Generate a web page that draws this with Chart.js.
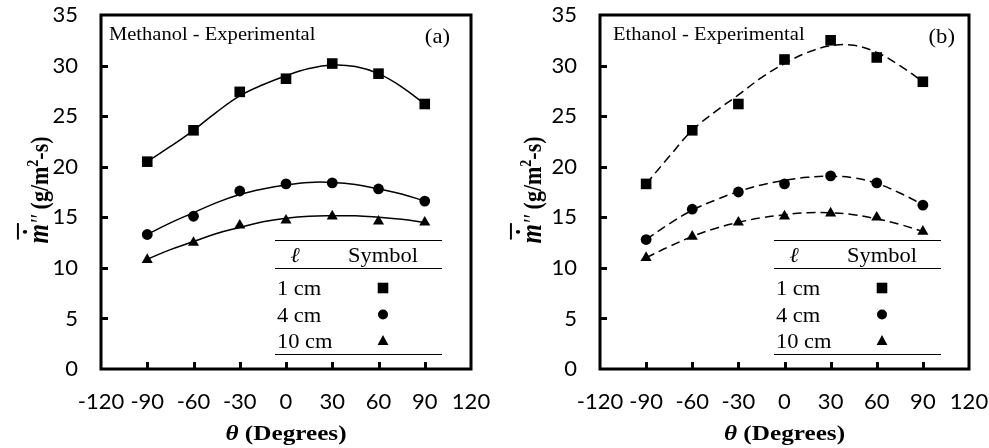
<!DOCTYPE html>
<html>
<head>
<meta charset="utf-8">
<script src="https://cdn.jsdelivr.net/npm/chart.js@4.4.0/dist/chart.umd.min.js"></script>
<style>
  body { margin: 0; background: #fff; }
  #wrap { position: relative; width: 989px; height: 448px; }
  .box { position: absolute; top: 0; height: 448px; }
</style>
</head>
<body>
<div id="wrap">
  <div class="box" style="left:0;width:495px"><canvas id="chartA"></canvas></div>
  <div class="box" style="left:495px;width:494px"><canvas id="chartB"></canvas></div>
</div>
<script>
// measured points
const angles = [-90, -60, -30, 0, 30, 60, 90];
const methanol1 = [20.5, 23.6, 27.4, 28.7, 30.2, 29.2, 26.2];
const methanol4 = [13.3, 15.1, 17.6, 18.3, 18.4, 17.8, 16.6];
const methanol10 = [10.8, 12.5, 14.2, 14.7, 15.1, 14.6, 14.5];
const ethanol1 = [18.3, 23.6, 26.2, 30.6, 32.5, 30.8, 28.4];
const ethanol4 = [12.8, 15.8, 17.5, 18.3, 19.1, 18.4, 16.2];
const ethanol10 = [11.0, 13.1, 14.5, 15.1, 15.4, 15.0, 13.6];

// fitted trend lines
const fitAngles = [-90, -75, -60, -45, -30, -15, 0, 15, 30, 45, 60, 75, 90];
const methanolFit1 = [20.5, 22.0, 23.6, 25.4, 27.0, 28.1, 29.0, 29.7, 30.05, 29.9, 29.2, 27.9, 26.2];
const methanolFit4 = [13.3, 14.45, 15.45, 16.45, 17.25, 17.8, 18.2, 18.45, 18.45, 18.25, 17.8, 17.3, 16.6];
const methanolFit10 = [10.85, 11.8, 12.6, 13.4, 14.0, 14.55, 14.9, 15.1, 15.15, 15.15, 15.0, 14.8, 14.5];
const ethanolFit1 = [18.3, 21.0, 23.6, 25.45, 27.1, 28.8, 30.2, 31.3, 31.95, 32.0, 31.3, 30.0, 28.4];
const ethanolFit4 = [12.8, 14.35, 15.7, 16.7, 17.55, 18.2, 18.65, 18.95, 19.05, 18.9, 18.35, 17.4, 16.25];
const ethanolFit10 = [11.0, 12.1, 13.1, 13.9, 14.5, 14.95, 15.25, 15.45, 15.45, 15.25, 14.85, 14.3, 13.6];

const xMin = -120, xMax = 120, xStep = 30;
const yMin = 0, yMax = 35, yStep = 5;
const legendRows = ['1 cm', '4 cm', '10 cm'];

Chart.defaults.font.family = 'Lato';
Chart.defaults.font.size = 22;
Chart.defaults.color = '#000';

function stretchText(ctx, s, x, y, font, align, sx) {
  ctx.save();
  ctx.font = font;
  const w = ctx.measureText(s).width * sx;
  let x0 = x;
  if (align === 'center') x0 = x - w / 2;
  if (align === 'right') x0 = x - w;
  ctx.translate(x0, y);
  ctx.scale(sx, 1);
  ctx.textAlign = 'left';
  ctx.fillText(s, 0, 0);
  ctx.restore();
  return w;
}

function drawMarker(ctx, kind, x, y) {
  ctx.beginPath();
  if (kind === 0) {
    ctx.rect(x - 5.3, y - 5.3, 10.6, 10.6);
  } else if (kind === 1) {
    ctx.arc(x, y, 5, 0, Math.PI * 2);
  } else {
    ctx.moveTo(x, y - 6);
    ctx.lineTo(x + 5.4, y + 4);
    ctx.lineTo(x - 5.4, y + 4);
    ctx.closePath();
  }
  ctx.fill();
}

const framePlugin = {
  id: 'frame',
  afterDraw(chart, args, o) {
    const { ctx, chartArea: a, scales: { x, y } } = chart;
    ctx.save();
    ctx.strokeStyle = '#000';
    ctx.fillStyle = '#000';
    ctx.lineWidth = 3;
    ctx.strokeRect(a.left, a.top, a.right - a.left, a.bottom - a.top);

    // inward tick marks
    ctx.beginPath();
    y.ticks.forEach(t => {
      if (t.value > y.min && t.value < y.max) {
        const py = Math.round(y.getPixelForValue(t.value)) + 0.5;
        ctx.moveTo(a.left, py);
        ctx.lineTo(a.left + 7, py);
      }
    });
    x.ticks.forEach(t => {
      if (t.value > x.min && t.value < x.max) {
        const px = Math.round(x.getPixelForValue(t.value)) + 0.5;
        ctx.moveTo(px, a.bottom);
        ctx.lineTo(px, a.bottom - 7);
      }
    });
    ctx.stroke();

    // labels inside the plot
    ctx.textBaseline = 'alphabetic';
    stretchText(ctx, o.label, a.left + o.labelDx, 40, '18.5px "Liberation Serif"', 'left', 1.11);
    stretchText(ctx, o.panel, a.right - o.panelDx, 43, '21px "Liberation Serif"', 'right', 1.08);

    // legend table
    const lx0 = a.left + 174, lx1 = a.left + 341;
    ctx.lineWidth = 1.2;
    ctx.beginPath();
    [240, 268, 354].forEach(yy => { ctx.moveTo(lx0, yy + 0.5); ctx.lineTo(lx1, yy + 0.5); });
    ctx.stroke();
    stretchText(ctx, '\u2113', a.left + 194, 262, 'italic 21px "Liberation Serif"', 'center', 1.05);
    stretchText(ctx, 'Symbol', a.left + 282, 262, '21px "Liberation Serif"', 'center', 1.07);
    legendRows.forEach((r, i) => {
      stretchText(ctx, r, a.left + 176, 295 + i * 26.5, '21px "Liberation Serif"', 'left', 1.07);
      drawMarker(ctx, i, a.left + 282, 288 + i * 26.5);
    });

    // x axis title
    const cx = (a.left + a.right) / 2;
    ctx.font = 'bold italic 21px "Liberation Serif"';
    const w1 = ctx.measureText('\u03b8').width * 1.2;
    ctx.font = 'bold 21px "Liberation Serif"';
    const w2 = ctx.measureText(' (Degrees)').width * 1.2;
    const sx0 = cx - (w1 + w2) / 2;
    stretchText(ctx, '\u03b8', sx0, 440, 'bold italic 21px "Liberation Serif"', 'left', 1.2);
    stretchText(ctx, ' (Degrees)', sx0 + w1, 440, 'bold 21px "Liberation Serif"', 'left', 1.2);

    // y axis title, rotated
    ctx.save();
    ctx.translate(o.yTitleX, 190);
    ctx.rotate(-Math.PI / 2);
    ctx.scale(1, 1.15);
    const parts = [
      ['m', 'bold italic 25px "Liberation Serif"', 0],
      ['\u2032\u2032', 'italic 21px "Liberation Serif"', 0],
      [' (g/m', 'bold 22px "Liberation Serif"', 0],
      ['2', 'bold 14px "Liberation Serif"', -9],
      ['-s)', 'bold 22px "Liberation Serif"', 0]
    ];
    let total = 0;
    parts.forEach(p => { ctx.font = p[1]; total += ctx.measureText(p[0]).width; });
    let px = -total / 2;
    parts.forEach((p, i) => {
      ctx.font = p[1];
      ctx.fillText(p[0], px, p[2]);
      if (i === 0) {
        const mw = ctx.measureText('m').width;
        ctx.fillRect(px + 4, -27, mw - 3, 1.7);
        ctx.beginPath();
        ctx.arc(px + mw / 2 + 2, -20, 1.9, 0, Math.PI * 2);
        ctx.fill();
      }
      px += ctx.measureText(p[0]).width;
    });
    ctx.restore();
    ctx.restore();
  }
};

function makeDatasets(p1, p4, p10, f1, f4, f10, dash) {
  const pts = ys => angles.map((v, i) => ({ x: v, y: ys[i] }));
  const fit = ys => fitAngles.map((v, i) => ({ x: v, y: ys[i] }));
  const curve = ys => ({
    data: fit(ys), showLine: true, borderColor: '#000', borderWidth: 1.5,
    borderDash: dash, pointRadius: 0, tension: 0.4, order: 2
  });
  const mark = (ys, style, r) => ({
    data: pts(ys), showLine: false, pointStyle: style, pointRadius: r,
    pointBackgroundColor: '#000', pointBorderColor: '#000', pointBorderWidth: 0, order: 1
  });
  return [curve(f1), curve(f4), curve(f10),
    mark(p1, 'rect', 7.5), mark(p4, 'circle', 5.4), mark(p10, 'triangle', 6.4)];
}

function noPad(s) {
  s.paddingTop = 0; s.paddingBottom = 0; s.paddingLeft = 0; s.paddingRight = 0;
}

function makeChart(id, datasets, yWidth, rightPad, opts) {
  return new Chart(document.getElementById(id), {
    type: 'scatter',
    data: { datasets },
    options: {
      animation: false,
      responsive: true,
      maintainAspectRatio: false,
      layout: { padding: { top: 15, right: rightPad, left: 0, bottom: 0 } },
      scales: {
        x: {
          type: 'linear', min: xMin, max: xMax,
          grid: { display: false, drawTicks: false },
          border: { display: false },
          ticks: { stepSize: xStep, autoSkip: false, maxRotation: 0, padding: 20 },
          afterFit: s => { s.height = 79; noPad(s); }
        },
        y: {
          type: 'linear', min: yMin, max: yMax,
          grid: { display: false, drawTicks: false },
          border: { display: false },
          ticks: { stepSize: yStep, padding: 23 },
          afterFit: s => { s.width = yWidth; noPad(s); }
        }
      },
      plugins: {
        legend: { display: false },
        tooltip: { enabled: false },
        frame: opts
      }
    },
    plugins: [framePlugin]
  });
}

makeChart('chartA',
  makeDatasets(methanol1, methanol4, methanol10, methanolFit1, methanolFit4, methanolFit10, []),
  101, 24,
  { label: 'Methanol - Experimental', panel: '(a)', labelDx: 8, panelDx: 21, yTitleX: 48 });

makeChart('chartB',
  makeDatasets(ethanol1, ethanol4, ethanol10, ethanolFit1, ethanolFit4, ethanolFit10, [9, 5]),
  105, 20,
  { label: 'Ethanol - Experimental', panel: '(b)', labelDx: 13, panelDx: 14, yTitleX: 46 });
</script>
</body>
</html>
